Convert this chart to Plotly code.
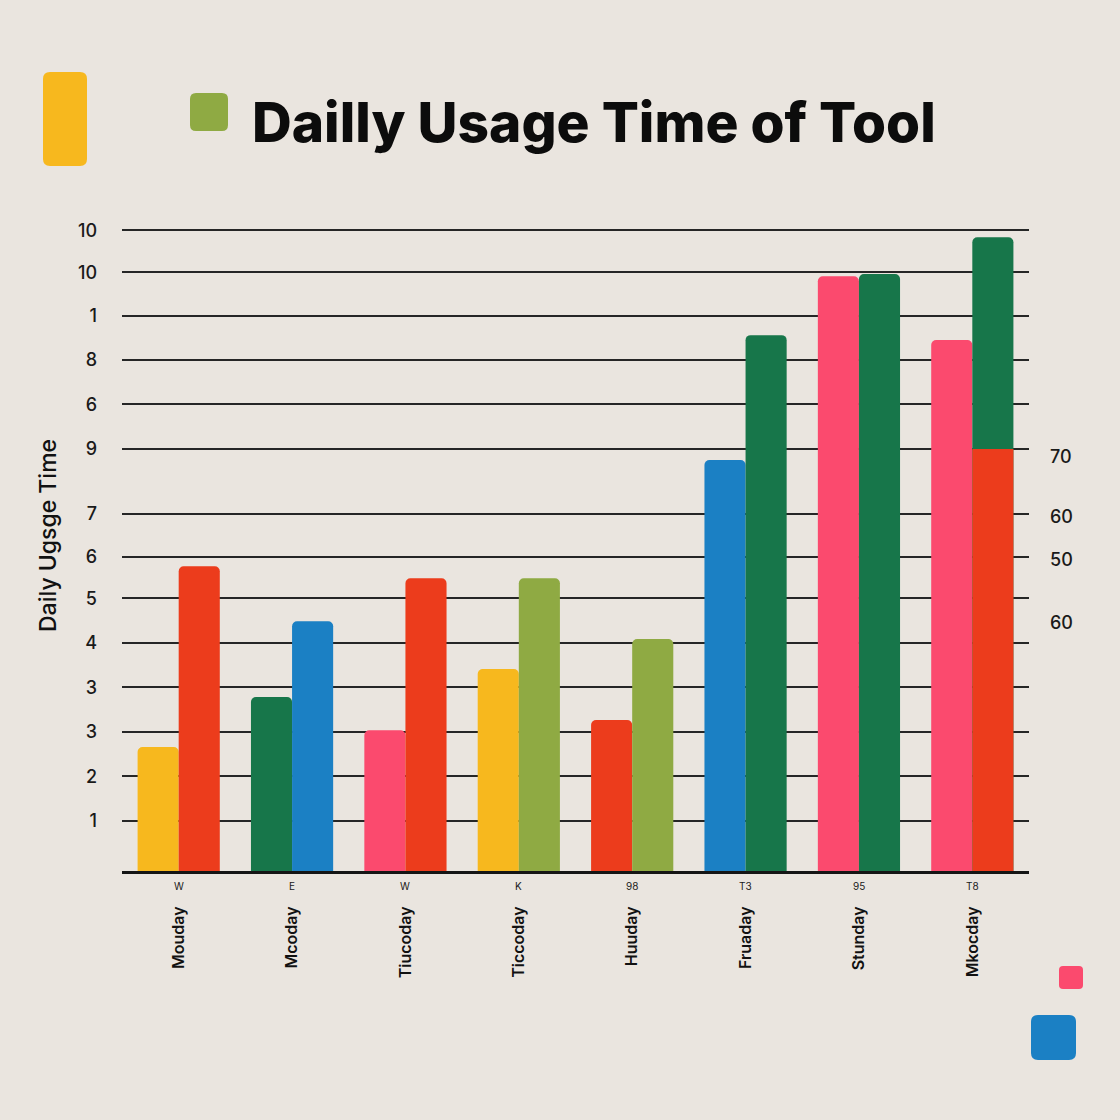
import plotly.graph_objects as go

# ---------------- data ----------------
categories = ["Mouday", "Mcoday", "Tiucoday", "Ticcoday", "Huuday", "Fruaday", "Stunday", "Mkocday"]
sub_labels = ["W", "E", "W", "K", "98", "T3", "95", "T8"]

left_values = [2.80, 3.93, 3.18, 4.56, 3.41, 9.28, 13.43, 11.99]
right_values = [6.88, 5.64, 6.61, 6.61, 5.24, 12.10, 13.48, 14.31]
segment_category = ["Mkocday"]
segment_values = [9.53]   # red lower part of the last right-hand bar

left_tick_vals = [1.13, 2.14, 3.14, 4.15, 5.15, 6.16, 7.09, 8.06, 9.53, 10.54, 11.54, 12.53, 13.52, 14.47]
left_tick_text = ["1", "2", "3", "3", "4", "5", "6", "7", "9", "6", "8", "1", "10", "10"]
right_tick_vals = [9.35, 7.99, 7.04, 5.60]
right_tick_text = ["70", "60", "50", "60"]

# ---------------- style ----------------
YEL, RED, GRN, BLU, PNK, OLV = "#F7B81E", "#EC3C1C", "#17764A", "#1B80C4", "#FB4A6E", "#8FAA43"
left_colors = [YEL, GRN, PNK, YEL, RED, BLU, PNK, PNK]
right_colors = [RED, BLU, RED, OLV, OLV, GRN, GRN, GRN]
BG = "#EAE5DF"
FONT = "Inter"

W, H = 1120, 1120
L, R, T, B = 122, 91, 220, 249
YMAX = 14.70
BW = 0.3625

fig = go.Figure()
fig.add_trace(go.Bar(x=categories, y=left_values, width=BW, offset=-BW,
                     marker=dict(color=left_colors, cornerradius=5, line_width=0),
                     showlegend=False, hoverinfo="x+y"))
fig.add_trace(go.Bar(x=categories, y=right_values, width=BW, offset=0,
                     marker=dict(color=right_colors, cornerradius=5, line_width=0),
                     showlegend=False, hoverinfo="x+y"))
fig.add_trace(go.Bar(x=segment_category, y=segment_values, width=BW, offset=0,
                     marker=dict(color=RED, cornerradius=0, line_width=0),
                     showlegend=False, hoverinfo="x+y"))
fig.add_trace(go.Scatter(x=[], y=[], yaxis="y2", showlegend=False))


def rrect(X0, Y0, X1, Y1, r, color):
    x0, x1 = X0 - L, X1 - L
    y0, y1 = (H - B) - Y1, (H - B) - Y0
    p = (f"M{x0+r},{y0} L{x1-r},{y0} Q{x1},{y0} {x1},{y0+r} L{x1},{y1-r} Q{x1},{y1} {x1-r},{y1} "
         f"L{x0+r},{y1} Q{x0},{y1} {x0},{y1-r} L{x0},{y0+r} Q{x0},{y0} {x0+r},{y0} Z")
    return dict(type="path", xref="paper", yref="paper", xsizemode="pixel", ysizemode="pixel",
                xanchor=0, yanchor=0, path=p, fillcolor=color, line_width=0, layer="above")


pw = W - L - R
ph = H - T - B
shapes = [
    rrect(43, 72, 87, 166, 7, YEL),
    rrect(190, 93, 228, 131, 6, OLV),
    rrect(1059, 966, 1083, 989, 4, PNK),
    rrect(1031, 1015, 1076, 1060, 7, BLU),
]

annotations = [
    dict(text="Dailly Usage Time of Tool", x=(250 - L) / pw, y=((H - B) - 122) / ph,
         xref="paper", yref="paper", xanchor="left", yanchor="middle", showarrow=False,
         font=dict(family=FONT, size=55, color="#0c0c0c", weight=800)),
    dict(text="Daily Ugsge Time", x=(48 - L) / pw, y=((H - B) - 536) / ph,
         xref="paper", yref="paper", xanchor="center", yanchor="middle", textangle=-90,
         showarrow=False, font=dict(family=FONT, size=23, color="#111111", weight=500)),
]
for c, s in zip(categories, sub_labels):
    annotations.append(dict(text=s, x=c, y=-15 / ph, xref="x", yref="paper",
                            xanchor="center", yanchor="middle", showarrow=False,
                            font=dict(family=FONT, size=10, color="#1a1a1a")))

fig.update_layout(
    width=W, height=H, autosize=False,
    margin=dict(l=L, r=R, t=T, b=B),
    paper_bgcolor=BG, plot_bgcolor=BG,
    barmode="overlay",
    shapes=shapes, annotations=annotations,
    xaxis=dict(type="category", categoryorder="array", categoryarray=categories,
               tickangle=-90, ticklabelstandoff=26,
               tickfont=dict(family=FONT, size=16, color="#111111", weight=600),
               showline=True, linecolor="#151515", linewidth=3, showgrid=False, ticks=""),
    yaxis=dict(range=[0, YMAX], tickvals=left_tick_vals, ticktext=left_tick_text,
               showgrid=True, gridcolor="#262626", gridwidth=2, zeroline=False,
               ticks="", ticklabelstandoff=24, fixedrange=True,
               tickfont=dict(family=FONT, size=18, color="#1a1a1a", weight=500)),
    yaxis2=dict(range=[0, YMAX], overlaying="y", side="right", tickvals=right_tick_vals,
                ticktext=right_tick_text, showgrid=False, zeroline=False, ticks="",
                ticklabelstandoff=20,
                tickfont=dict(family=FONT, size=18, color="#1a1a1a", weight=500)),
)

fig.write_html("out.html")
